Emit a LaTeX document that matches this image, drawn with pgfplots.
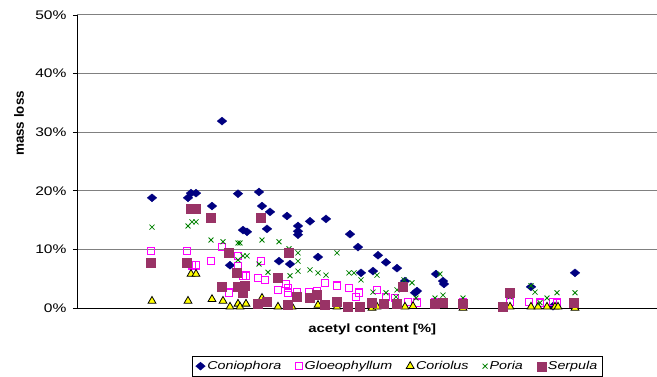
\documentclass[border=0pt]{standalone}
\usepackage{fontspec}
\setmainfont{Liberation Sans}
\newfontfamily\wide{Liberation Sans}[FakeStretch=1.25]
\usepackage{pgfplots}
\pgfplotsset{compat=1.18}
\definecolor{conio}{RGB}{0,0,128}
\definecolor{gloeo}{RGB}{255,0,255}
\definecolor{corio}{RGB}{255,255,0}
\definecolor{poria}{RGB}{0,128,0}
\definecolor{serp}{RGB}{153,51,102}
\definecolor{gridc}{RGB}{128,128,128}
\pgfplotstableread{
x y
152 18.8
188 18.8
191 19.6
196 19.6
212 17.4
222 31.9
230 7.3
238 19.5
243 13.3
247 13.0
259 19.8
262 17.4
267 13.5
270 16.4
279 8.0
287 15.7
290 7.5
298 14.0
298 13.1
298 12.5
310 14.8
318 8.7
326 15.2
350 12.6
358 10.4
361 6.0
373 6.3
378 9.0
386 7.8
397 6.8
405 4.6
415 2.6
417 2.9
436 5.8
443 4.6
444 4.1
463 0.7
531 3.6
553 0.3
575 6.0
}\conio
\pgfplotstableread{
x y
151 9.7
187 9.7
192 7.3
196 7.3
211 8.0
222 10.4
229 2.6
238 8.9
238 7.2
243 5.5
246 5.5
258 5.1
261 8.0
265 4.8
278 3.1
286 4.1
288 3.4
288 2.6
297 2.7
309 2.7
317 2.9
325 4.3
337 3.8
349 3.4
359 2.6
356 1.9
377 3.1
386 1.9
395 1.7
408 1.0
417 0.9
435 1.0
463 1.0
510 1.0
529 1.0
540 0.9
553 1.0
557 0.9
575 0.9
}\gloeo
\pgfplotstableread{
x y
152 1.2
188 1.2
191 5.8
196 5.8
212 1.5
223 1.2
230 0.2
238 0.7
240 0.2
246 0.7
262 1.7
278 0.2
292 0.2
318 0.5
337 0.2
372 0.0
377 0.2
405 0.2
413 0.3
463 0.0
510 0.2
531 0.2
538 0.2
547 0.2
555 0.2
558 0.2
575 0.0
}\corio
\pgfplotstableread{
x y
152 13.8
188 14.0
192 14.7
196 14.7
211 11.6
223 11.3
238 11.1
238 8.2
243 8.9
247 8.9
240 11.1
262 11.6
259 7.5
268 6.1
279 11.3
289 10.1
290 5.5
298 9.4
298 8.0
298 6.3
310 6.5
318 6.0
326 5.6
337 9.4
349 6.0
354 6.0
361 4.8
377 5.6
373 2.7
386 2.6
396 1.9
397 3.1
404 4.8
412 4.3
416 1.7
435 1.7
440 5.8
443 2.2
463 1.7
510 1.9
531 3.8
535 2.7
540 0.9
547 1.7
557 2.6
575 2.6
}\poria
\pgfplotstableread{
x y
151 7.7
187 7.7
191 16.9
196 16.9
211 15.4
222 3.6
229 9.4
237 6.0
238 3.6
243 2.6
245 3.8
258 0.7
261 15.4
267 1.0
278 5.1
288 0.5
289 9.4
297 1.9
310 1.7
317 2.2
325 0.5
337 1.0
348 0.3
360 0.3
372 0.9
384 0.7
397 0.7
403 3.6
435 0.7
443 0.9
463 0.7
503 0.3
510 2.7
574 0.9
}\serp
\begin{document}
\begin{tikzpicture}
\useasboundingbox (0,0) rectangle (657bp,377bp);
\begin{axis}[
  at={(77bp,69bp)}, anchor=south west,
  scale only axis, width=580bp, height=293bp,
  xmin=77, xmax=657, ymin=0, ymax=50,
  axis x line*=bottom, axis y line*=left,
  xtick=\empty,
  ytick={0,10,20,30,40,50},
  yticklabels={0\%,10\%,20\%,30\%,40\%,50\%},
  tick align=outside, major tick length=4bp,
  tick style={black, line width=0.8bp},
  ymajorgrids, grid style={draw=gridc, line width=1bp},
  axis line style={line width=0.8bp, black},
  yticklabel style={font=\wide\fontsize{12.5}{14}\selectfont, anchor=east, xshift=-3bp},
  clip=false,
  xlabel={\bfseries acetyl content [\%]},
  xlabel style={at={(axis description cs:0.509,-0.072)}, anchor=center, font=\wide\fontsize{12}{14}\selectfont},
  ylabel={\bfseries mass loss},
  ylabel style={at={(axis description cs:-0.1,0.63)}, anchor=center, font=\fontsize{13.5}{15}\selectfont},
  legend columns=5,
  legend style={at={(axis description cs:0.5526,-0.1985)}, anchor=center, draw=black, line width=0.8bp,
    font=\wide\itshape\fontsize{11.5}{13}\selectfont, inner ysep=3bp,
    /tikz/every even column/.append style={column sep=12bp}},
]
\addplot[only marks, color=conio, mark=diamond*, mark size=4bp, line width=0.3bp, mark options={xscale=1.6, fill=conio}] table {\conio};
\addlegendentry{Coniophora}
\addplot[only marks, color=gloeo, mark=square, mark size=3.7bp, line width=1.2bp, mark options={fill=white}] table {\gloeo};
\addlegendentry{Gloeophyllum}
\addplot[only marks, color=black, mark=triangle*, mark size=4.5bp, line width=0.8bp, mark options={fill=corio}] table {\corio};
\addlegendentry{Coriolus}
\addplot[only marks, color=poria, mark=x, mark size=3.5bp, line width=0.8bp] table {\poria};
\addlegendentry{Poria}
\addplot[only marks, color=serp, mark=square*, mark size=4.5bp, line width=0.3bp, mark options={fill=serp}] table {\serp};
\addlegendentry{Serpula}
\end{axis}
\end{tikzpicture}
\end{document}
